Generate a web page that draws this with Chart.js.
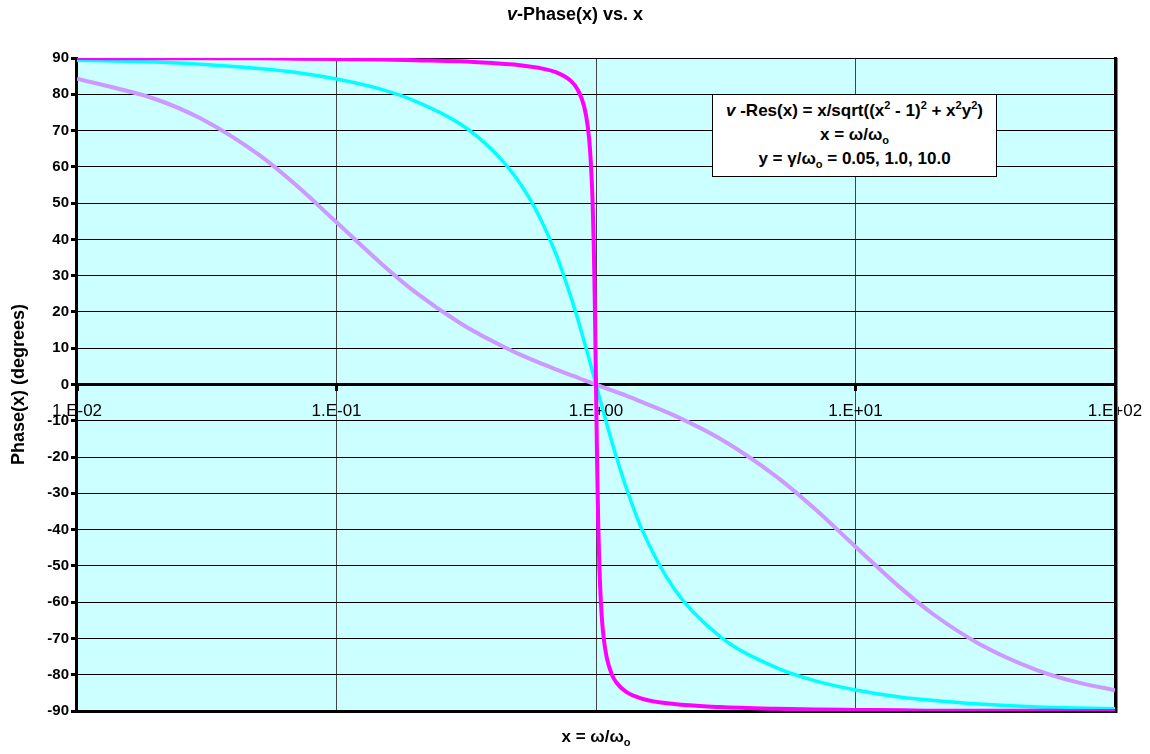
<!DOCTYPE html>
<html>
<head>
<meta charset="utf-8">
<title>v-Phase(x) vs. x</title>
<script src="https://cdn.jsdelivr.net/npm/chart.js@4.4.1/dist/chart.umd.min.js"></script>
<style>
  body { margin: 0; background: #fff; font-family: "Liberation Sans", Arial, sans-serif; color: #000; }
  #wrap { position: relative; width: 1150px; height: 754px; }
  #title { position: absolute; top: 4px; left: 0; width: 1150px; text-align: center; font-weight: bold; font-size: 18px; }
  #note {
    position: absolute; left: 712px; top: 94px; width: 285px; height: 83px; box-sizing: border-box;
    background: #fff; border: 1px solid #000; font-weight: bold; font-size: 17px;
    text-align: center; line-height: 24px; padding-top: 4px;
  }
  #xtitle { position: absolute; top: 727px; left: 77px; width: 1038px; text-align: center; font-weight: bold; font-size: 17px; }
  sup, sub { font-size: 11px; line-height: 0; }
</style>
</head>
<body>
<div id="wrap">
  <canvas id="chart" width="1150" height="754"></canvas>
  <div id="title"><i>v</i>-Phase(x) vs. x</div>
  <div id="note">
    <div><i>v</i> -Res(x) = x/sqrt((x<sup>2</sup> - 1)<sup>2</sup> + x<sup>2</sup>y<sup>2</sup>)</div>
    <div>x = &omega;/&omega;<sub>o</sub></div>
    <div>y = &gamma;/&omega;<sub>o</sub> = 0.05, 1.0, 10.0</div>
  </div>
  <div id="xtitle">x = &omega;/&omega;<sub>o</sub></div>
</div>
<script>
  "use strict";

  // x = omega / omega0 (shared by the three curves)
  const xValues = [
    0.01, 0.02, 0.03, 0.05, 0.07, 0.1, 0.15, 0.2, 0.3, 0.4, 0.5, 0.6, 0.7, 0.8, 0.85,
    0.9, 0.93, 0.95, 0.97, 0.98, 0.99, 1.0, 1.01, 1.02, 1.03, 1.05, 1.07, 1.1, 1.15,
    1.2, 1.3, 1.5, 2, 3, 5, 7, 10, 15, 20, 30, 50, 70, 100,
  ];

  // phase in degrees, y = 0.05 (magenta)
  const phaseY005 = [
    90.0, 89.9, 89.9, 89.9, 89.8, 89.7, 89.6, 89.4, 89.1, 88.6, 88.1, 87.3, 86.1, 83.7, 81.3,
    76.7, 71.0, 64.0, 50.6, 38.9, 21.9, 0, -21.7, -38.4, -49.8, -62.9, -69.7, -75.3, -79.9,
    -82.2, -84.6, -86.6, -88.1, -88.9, -89.4, -89.6, -89.7, -89.8, -89.9, -89.9, -89.9, -90.0, -90.0,
  ];

  // y = 1.0 (cyan)
  const phaseY1 = [
    89.4, 88.9, 88.3, 87.1, 86.0, 84.2, 81.3, 78.2, 71.8, 64.5, 56.3, 46.8, 36.1, 24.2, 18.1,
    11.9, 8.3, 5.9, 3.5, 2.3, 1.2, 0, -1.1, -2.3, -3.4, -5.6, -7.7, -10.8, -15.7,
    -20.1, -27.9, -39.8, -56.3, -69.4, -78.2, -81.7, -84.2, -86.2, -87.1, -88.1, -88.9, -89.2, -89.4,
  ];

  // y = 10.0 (lavender)
  const phaseY10 = [
    84.3, 78.7, 73.3, 63.4, 54.9, 44.7, 33.1, 25.6, 16.9, 11.9, 8.5, 6.1, 4.2, 2.6, 1.9,
    1.2, 0.8, 0.6, 0.3, 0.2, 0.1, 0, -0.1, -0.2, -0.3, -0.6, -0.8, -1.1, -1.6,
    -2.1, -3.0, -4.8, -8.5, -14.9, -25.6, -34.4, -44.7, -56.2, -63.4, -71.5, -78.7, -81.9, -84.3,
  ];

  const xTickValues = [0.01, 0.1, 1, 10, 100];
  const xTickLabels = ["1.E-02", "1.E-01", "1.E+00", "1.E+01", "1.E+02"];

  const FONT = "'Liberation Sans', Arial, sans-serif";

  const toPoints = (ys) => xValues.map((x, i) => ({x: x, y: ys[i]}));

  // plot background + frame (Excel style)
  const plotFrame = {
    id: "plotFrame",
    beforeDraw(chart) {
      const {ctx, chartArea: a} = chart;
      ctx.save();
      ctx.fillStyle = "#CCFFFF";
      ctx.fillRect(a.left, a.top, a.right - a.left, a.bottom - a.top);
      ctx.restore();
    },
    beforeDatasetsDraw(chart) {
      const {ctx, chartArea: a} = chart;
      ctx.save();
      ctx.strokeStyle = "#000";
      ctx.lineWidth = 3;
      ctx.beginPath();
      ctx.moveTo(a.left - 0.5, a.top - 1);
      ctx.lineTo(a.left - 0.5, a.bottom + 0.5);
      ctx.lineTo(a.right + 0.5, a.bottom + 0.5);
      ctx.lineTo(a.right + 0.5, a.top - 1);
      ctx.stroke();
      ctx.strokeStyle = "#808080";
      ctx.lineWidth = 1;
      ctx.beginPath();
      ctx.moveTo(a.right + 2.5, a.top);
      ctx.lineTo(a.right + 2.5, a.bottom + 2);
      ctx.stroke();
      ctx.restore();
    },
  };

  new Chart(document.getElementById("chart"), {
    type: "line",
    data: {
      datasets: [
        {
          label: "y = 0.05",
          data: toPoints(phaseY005),
          borderColor: "#FF00FF",
          borderWidth: 4,
        },
        {
          label: "y = 1.0",
          data: toPoints(phaseY1),
          borderColor: "#00FFFF",
          borderWidth: 3.5,
        },
        {
          label: "y = 10.0",
          data: toPoints(phaseY10),
          borderColor: "#CC99FF",
          borderWidth: 4,
        },
      ],
    },
    options: {
      responsive: false,
      animation: false,
      devicePixelRatio: 1,
      parsing: false,
      layout: {padding: {left: 0, right: 35, top: 58, bottom: 43}},
      elements: {
        point: {radius: 0},
        line: {cubicInterpolationMode: "monotone", fill: false},
      },
      plugins: {
        legend: {display: false},
        tooltip: {enabled: false},
      },
      scales: {
        x: {
          type: "logarithmic",
          min: 0.01,
          max: 100,
          position: {y: 0},
          afterBuildTicks: (s) => {
            s.ticks = xTickValues.map((v) => ({value: v}));
          },
          afterFit: (s) => {
            s.paddingLeft = 0;
            s.paddingRight = 0;
          },
          border: {display: true, color: "#000", width: 3},
          grid: {color: "#444", lineWidth: 1, drawTicks: true, tickLength: 5, tickWidth: 3, tickColor: "#000"},
          ticks: {
            autoSkip: false,
            maxRotation: 0,
            color: "#000",
            padding: 12,
            font: {family: FONT, size: 17},
            callback: (v, i) => xTickLabels[i],
          },
        },
        y: {
          type: "linear",
          min: -90,
          max: 90,
          afterFit: (s) => {
            s.width = 77;
          },
          border: {display: false},
          grid: {color: "#000", lineWidth: 1, tickLength: 6, tickWidth: 3, tickColor: "#000"},
          ticks: {
            stepSize: 10,
            autoSkip: false,
            color: "#000",
            padding: 2,
            font: {family: FONT, size: 15, weight: "bold"},
          },
          title: {
            display: true,
            text: "Phase(x) (degrees)",
            color: "#000",
            padding: {top: 8, bottom: 0},
            font: {family: FONT, size: 18, weight: "bold"},
          },
        },
      },
    },
    plugins: [plotFrame],
  });
</script>
</body>
</html>
